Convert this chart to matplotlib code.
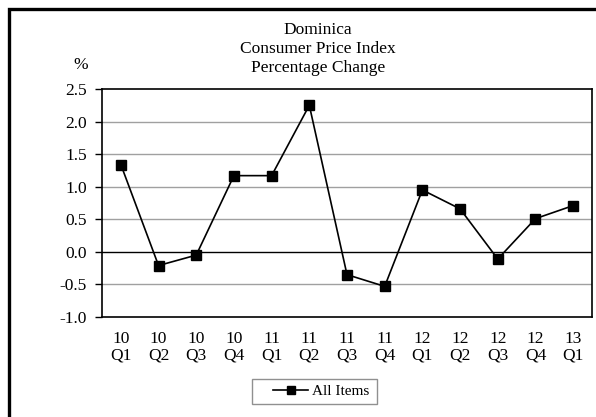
import matplotlib
matplotlib.use("Agg")
import matplotlib.pyplot as plt
from matplotlib.patches import Rectangle

categories = ["10\nQ1", "10\nQ2", "10\nQ3", "10\nQ4", "11\nQ1", "11\nQ2", "11\nQ3",
              "11\nQ4", "12\nQ1", "12\nQ2", "12\nQ3", "12\nQ4", "13\nQ1"]
all_items = [1.34, -0.21, -0.05, 1.17, 1.17, 2.25, -0.35, -0.53, 0.95, 0.66, -0.11, 0.51, 0.71]
y_ticks = [-1.0, -0.5, 0.0, 0.5, 1.0, 1.5, 2.0, 2.5]

W, H = 596, 417
plt.rcParams['font.family'] = ['Liberation Serif', 'DejaVu Serif']
fig = plt.figure(figsize=(W / 100, H / 100), dpi=100)

left, right, top, bottom = 102, 592, 89, 317
ax = fig.add_axes([left / W, 1 - bottom / H, (right - left) / W, (bottom - top) / H])

x = list(range(len(categories)))
ax.plot(x, all_items, color='black', lw=1.2, marker='s', markersize=7,
        markerfacecolor='black', markeredgecolor='black', label='All Items', zorder=3)

ax.set_xlim(-0.5, len(categories) - 0.5)
ax.set_ylim(-1.0, 2.5)
ax.set_yticks(y_ticks)
ax.set_yticklabels([f"{v:.1f}" for v in y_ticks], fontsize=12.5)
ax.set_xticks(x)
ax.set_xticklabels(categories, fontsize=12.5, linespacing=1.05)
ax.tick_params(axis='x', length=0, pad=10)
ax.tick_params(axis='y', length=5, width=1, direction='out', pad=6)

for v in y_ticks:
    if v == 0.0:
        ax.axhline(v, color='black', lw=1.0, zorder=1)
    elif -1.0 < v < 2.5:
        ax.axhline(v, color='#a0a0a0', lw=1.0, zorder=1)

for s in ax.spines.values():
    s.set_color('black')
    s.set_linewidth(1.2)

fig.text(318 / W, 1 - 30 / H, "Dominica", ha='center', va='center', fontsize=12.5)
fig.text(318 / W, 1 - 49 / H, "Consumer Price Index", ha='center', va='center', fontsize=12.5)
fig.text(318 / W, 1 - 68 / H, "Percentage Change", ha='center', va='center', fontsize=12.5)
fig.text(81 / W, 1 - 65 / H, "%", ha='center', va='center', fontsize=12.5)

leg = fig.legend(loc='center left', bbox_to_anchor=(273 / W, 1 - 391.5 / H), fontsize=11,
                 frameon=False, handlelength=2.3, borderpad=0, borderaxespad=0,
                 handletextpad=0.25, markerscale=0.8)

fig.patches.append(Rectangle((252 / W, 1 - 404 / H), 125 / W, 25 / H,
                             transform=fig.transFigure, fill=False,
                             edgecolor='#909090', lw=1.0))

fig.patches.append(Rectangle((8.5 / W, -0.1), 1.2, 1 - 8.5 / H + 0.1,
                             transform=fig.transFigure, fill=False,
                             edgecolor='black', lw=2.4))

fig.savefig("out.png", dpi=100)
